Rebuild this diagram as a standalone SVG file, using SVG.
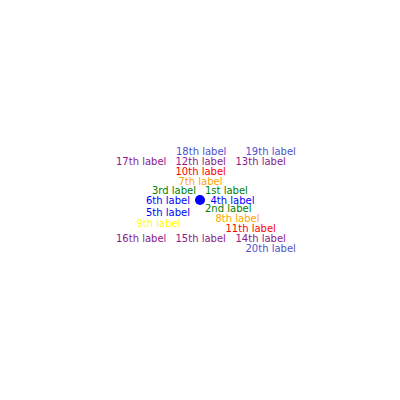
<svg xmlns="http://www.w3.org/2000/svg" width="400" height="400" viewBox="0 0 400 400">
<style>
text{font-family:"DejaVu Sans",sans-serif;font-size:10px}
.sb{fill:#5050cc}.pu{fill:#8b1a8b}.re{fill:#ff0000}.or{fill:#ffa500}.ye{fill:#ffff00}.gr{fill:#008000}.bl{fill:#0000ff}
</style>
<rect width="400" height="400" fill="#fff"/>
<g id="point"><circle cx="200" cy="200" r="5" fill="#0000ff"/></g>
<g id="labels">
<text class="sb" x="176" y="154.5">18th label</text>
<text class="sb" x="245.5" y="154.5">19th label</text>
<text class="pu" x="116" y="164.5">17th label</text>
<text class="pu" x="175.5" y="164.5">12th label</text>
<text class="pu" x="235.5" y="164.5">13th label</text>
<text class="re" x="175.5" y="174.5">10th label</text>
<text class="or" x="178.5" y="184.5">7th label</text>
<text class="gr" x="152" y="194">3rd label</text>
<text class="gr" x="205" y="194">1st label</text>
<text class="bl" x="146" y="204">6th label</text>
<text class="bl" x="210.5" y="204">4th label</text>
<text class="gr" x="205" y="212">2nd label</text>
<text class="bl" x="146" y="215.5">5th label</text>
<text class="or" x="215.5" y="221.5">8th label</text>
<text class="ye" x="136.5" y="226.5">9th label</text>
<text class="re" x="225.5" y="232">11th label</text>
<text class="pu" x="116" y="241.5">16th label</text>
<text class="pu" x="175.5" y="241.5">15th label</text>
<text class="pu" x="235.5" y="241.5">14th label</text>
<text class="sb" x="245.5" y="251.5">20th label</text>
</g>
</svg>
